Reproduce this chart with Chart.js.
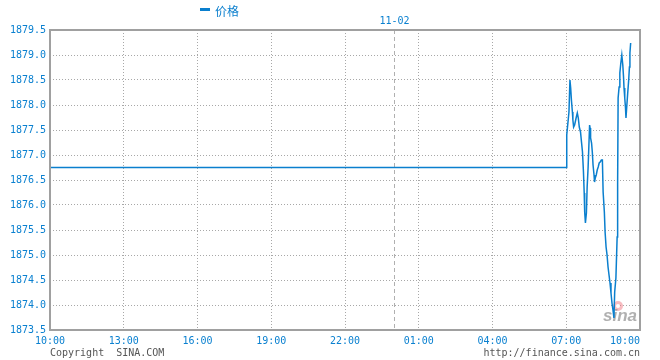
<!DOCTYPE html>
<html>
<head>
<meta charset="utf-8">
<script src="https://cdn.jsdelivr.net/npm/chart.js@4.4.1/dist/chart.umd.min.js"></script>
<style>
html,body{margin:0;padding:0;background:#fff;}
#wrap{width:660px;height:360px;position:relative;}
</style>
</head>
<body>
<div id="wrap"><canvas id="c" width="660" height="360"></canvas></div>
<script>
// ---- data (hours after 10:00 on the previous day) ----
const seriesName = '价格';
const hours = [0, 21.00, 21.02, 21.11, 21.15, 21.18, 21.21, 21.25, 21.27, 21.30, 21.34, 21.41, 21.45, 21.49, 21.53,
  21.58, 21.62, 21.66, 21.70, 21.73, 21.75, 21.78, 21.82, 21.85, 21.89, 21.95, 21.97, 21.99, 22.03, 22.06,
  22.09, 22.13, 22.15, 22.18, 22.22, 22.26, 22.30, 22.34, 22.38, 22.43, 22.47, 22.50, 22.55, 22.58, 22.62,
  22.66, 22.70, 22.74, 22.78, 22.82, 22.86, 22.90, 22.94, 22.97, 23.02, 23.07, 23.09, 23.11, 23.15, 23.18,
  23.22, 23.26, 23.30, 23.33, 23.35, 23.38, 23.41, 23.43, 23.46, 23.50, 23.54, 23.57, 23.59, 23.62];
const prices = [1876.75, 1876.75, 1877.40, 1877.86, 1878.50, 1878.34, 1878.10, 1877.86, 1877.70, 1877.56, 1877.60, 1877.76, 1877.84, 1877.74, 1877.56,
  1877.46, 1877.26, 1877.06, 1876.66, 1876.24, 1875.86, 1875.64, 1875.84, 1876.36, 1876.76, 1877.60, 1877.54, 1877.34, 1877.24, 1877.06,
  1876.80, 1876.60, 1876.46, 1876.54, 1876.60, 1876.70, 1876.76, 1876.84, 1876.86, 1876.90, 1876.90, 1876.26, 1875.86, 1875.46, 1875.16,
  1875.00, 1874.76, 1874.60, 1874.44, 1874.24, 1874.04, 1873.90, 1873.74, 1874.26, 1874.54, 1875.36, 1876.40, 1878.14, 1878.36, 1878.64,
  1878.84, 1879.00, 1878.80, 1878.56, 1878.34, 1878.14, 1877.94, 1877.74, 1877.96, 1878.24, 1878.50, 1878.76, 1879.04, 1879.24];
const xTickHours = [0, 3, 6, 9, 12, 15, 18, 21, 24];
const xTickLabels = ['10:00', '13:00', '16:00', '19:00', '22:00', '01:00', '04:00', '07:00', '10:00'];
const yMin = 1873.5, yMax = 1879.5, yStep = 0.5;
const dateMarkHours = [14];
const dateMarkLabels = ['11-02'];
const footerLeft = 'Copyright  SINA.COM';
const footerRight = 'http://finance.sina.com.cn';

const BLUE = '#0a80d0';
const GRID = '#a8a8a8';
const BORDER = '#a0a0a0';
const MONO = '"DejaVu Sans Mono", "Liberation Mono", monospace';

const extras = {
  id: 'extras',
  beforeDatasetsDraw(chart) {
    const ctx = chart.ctx, a = chart.chartArea, xs = chart.scales.x;
    ctx.save();
    // date separators
    ctx.strokeStyle = '#b0b0b0';
    ctx.lineWidth = 1;
    ctx.setLineDash([4, 3]);
    dateMarkHours.forEach((h, i) => {
      const px = Math.round(xs.getPixelForValue(h)) + 0.5;
      ctx.beginPath(); ctx.moveTo(px, a.top); ctx.lineTo(px, a.bottom); ctx.stroke();
      ctx.fillStyle = BLUE;
      ctx.font = '10px ' + MONO;
      ctx.textAlign = 'center'; ctx.textBaseline = 'alphabetic';
      ctx.fillText(dateMarkLabels[i], px, a.top - 6);
    });
    ctx.setLineDash([]);
    // watermark
    ctx.fillStyle = 'rgba(240,120,130,0.5)';
    ctx.beginPath(); ctx.arc(a.right - 22, a.bottom - 24, 5, 0, Math.PI * 2); ctx.fill();
    ctx.fillStyle = '#fff';
    ctx.beginPath(); ctx.arc(a.right - 22, a.bottom - 24, 2, 0, Math.PI * 2); ctx.fill();
    ctx.fillStyle = 'rgba(150,150,150,0.75)';
    ctx.font = 'italic bold 17px "Liberation Sans", Arial, sans-serif';
    ctx.textAlign = 'right'; ctx.textBaseline = 'alphabetic';
    ctx.fillText('sina', a.right - 3, a.bottom - 9);
    ctx.restore();
  },
  afterDraw(chart) {
    const ctx = chart.ctx, a = chart.chartArea;
    ctx.save();
    // frame
    ctx.strokeStyle = BORDER;
    ctx.lineWidth = 2;
    ctx.strokeRect(a.left, a.top, a.right - a.left, a.bottom - a.top);
    // legend
    const ds = chart.data.datasets[0];
    ctx.fillStyle = ds.borderColor;
    ctx.fillRect(200, 8, 10, 3);
    ctx.font = '12px "Noto Sans CJK SC", sans-serif';
    ctx.textAlign = 'left'; ctx.textBaseline = 'middle';
    ctx.fillText(ds.label, 215, 11);
    // footer
    ctx.fillStyle = '#555';
    ctx.font = '10px ' + MONO;
    ctx.textBaseline = 'alphabetic';
    ctx.textAlign = 'left';
    ctx.fillText(footerLeft, a.left, 356);
    ctx.textAlign = 'right';
    ctx.fillText(footerRight, a.right, 356);
    ctx.restore();
  }
};

new Chart(document.getElementById('c'), {
  type: 'line',
  data: {
    datasets: [{
      label: seriesName,
      data: hours.map((h, i) => ({ x: h, y: prices[i] })),
      borderColor: '#0a7fce',
      borderWidth: 1.5,
      pointRadius: 0,
      tension: 0,
      fill: false
    }]
  },
  options: {
    responsive: false,
    animation: false,
    events: [],
    layout: { padding: { top: 30, right: 20, left: 0, bottom: 0 } },
    plugins: { legend: { display: false }, tooltip: { enabled: false } },
    scales: {
      x: {
        type: 'linear', min: 0, max: 24,
        afterBuildTicks(s) { s.ticks = xTickHours.map(v => ({ value: v })); },
        afterFit(s) { s.height = 30; s.paddingLeft = 0; s.paddingRight = 0; },
        grid: { color: GRID, lineWidth: 1, drawTicks: false },
        border: { display: false, dash: [1, 2] },
        ticks: {
          color: BLUE, font: { family: MONO, size: 10 }, padding: 5, maxRotation: 0, autoSkip: false,
          callback(v, i) { const l = xTickLabels[i]; return i === xTickLabels.length - 1 ? l + '     ' : l; }
        }
      },
      y: {
        type: 'linear', min: yMin, max: yMax,
        afterFit(s) { s.width = 50; s.paddingTop = 0; s.paddingBottom = 0; },
        grid: { color: GRID, lineWidth: 1, drawTicks: false },
        border: { display: false, dash: [1, 2] },
        ticks: {
          stepSize: yStep, color: BLUE, font: { family: MONO, size: 10 }, padding: 4,
          callback(v) { return v.toFixed(1); }
        }
      }
    }
  },
  plugins: [extras]
});
</script>
</body>
</html>
